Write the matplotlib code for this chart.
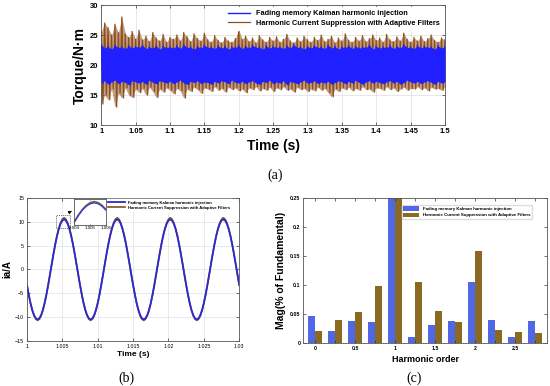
import numpy as np
import matplotlib
matplotlib.use("Agg")
import matplotlib.pyplot as plt

plt.rcParams['font.family'] = ['Liberation Sans', 'DejaVu Sans']

# ---------------- data ----------------
legend_names = ["Fading memory Kalman harmonic injection",
                "Harmonic Current Suppression with Adaptive Filters"]

# (a) torque envelopes (upper / lower excursions)
torque_start, torque_end = 1.0, 1.5
kalman_hi = [23.4, 22.8, 23.1, 22.6, 23.3, 22.9, 23.0, 22.7, 23.2, 22.8, 23.1,
             22.9, 23.3, 22.7, 23.0, 22.8, 23.2, 22.6, 23.1, 22.9, 23.0,
             22.8, 23.2, 22.7, 23.4, 22.9, 23.0, 22.6, 23.1, 22.8, 23.3,
             22.9, 23.0, 22.7, 23.2, 22.8, 23.1, 22.6, 23.0, 22.9, 23.2,
             22.7, 23.1, 22.8, 23.3, 22.9, 23.0, 22.6, 23.2, 22.8, 23.1,
             22.9, 23.0, 22.7, 23.2, 22.8, 23.4, 22.9, 23.0, 22.6, 23.1,
             22.8, 23.2, 22.9, 23.0, 22.7, 23.3, 22.8, 23.1, 22.6, 23.0,
             22.9, 23.2, 22.7, 23.1, 22.8, 23.0, 22.9, 23.3, 22.6, 23.1,
             22.8, 23.0, 22.9, 23.2, 22.7, 23.1, 22.8, 23.4, 22.9, 23.0,
             22.7, 23.2, 22.8, 23.1, 22.9, 23.0, 22.6, 23.2, 22.8, 23.1]
kalman_lo = [17.0, 17.4, 16.8, 17.2, 17.5, 16.9, 17.3, 17.1, 16.7, 17.4, 17.2,
             17.0, 17.3, 16.8, 17.5, 17.1, 16.9, 17.4, 17.2, 17.0, 17.3,
             16.9, 17.2, 17.5, 17.0, 16.8, 17.3, 17.1, 17.4, 16.9, 17.2,
             17.1, 16.8, 17.3, 17.0, 17.4, 17.2, 16.9, 17.5, 17.1, 17.0,
             17.3, 16.9, 17.2, 17.4, 17.0, 16.8, 17.3, 17.1, 17.5, 16.9,
             17.2, 17.0, 17.4, 16.7, 17.3, 17.1, 16.9, 17.2, 17.5, 17.0,
             17.1, 17.4, 16.9, 17.2, 17.0, 17.3, 16.8, 17.1, 17.4, 17.2,
             16.9, 17.3, 17.0, 17.5, 17.1, 16.8, 17.2, 17.4, 17.0, 17.3,
             17.1, 16.9, 17.2, 17.4, 17.0, 17.3, 16.8, 17.1, 17.5, 17.2,
             17.0, 17.3, 16.9, 17.2, 17.4, 17.1, 16.8, 17.3, 17.0, 17.2]
adaptive_hi = [25.5, 27.0, 26.2, 25.0, 26.8, 25.4, 28.0, 25.2, 24.6, 25.6, 24.3,
               25.8, 24.2, 24.8, 23.9, 25.4, 24.5, 24.0, 25.1, 23.8, 24.6,
               24.3, 25.0, 24.0, 25.4, 24.7, 23.9, 25.2, 24.4, 24.0, 25.3,
               24.2, 23.8, 24.9, 24.1, 23.7, 24.6, 24.0, 23.8, 24.4, 25.9,
               24.3, 24.8, 23.9, 24.5, 23.7, 24.9, 24.2, 23.8, 24.6, 24.0,
               24.7, 23.8, 24.3, 25.1, 24.0, 23.7, 24.5, 23.9, 24.8, 24.2,
               23.8, 24.6, 24.1, 25.0, 23.9, 24.3, 24.8, 23.7, 24.5, 24.0,
               25.2, 24.1, 23.8, 24.6, 24.0, 24.9, 23.9, 24.4, 25.0, 24.1,
               24.5, 23.8, 25.1, 24.2, 23.9, 24.7, 24.0, 25.3, 24.3, 23.8,
               24.6, 24.0, 24.8, 23.9, 24.4, 25.0, 24.1, 23.8, 24.5, 24.2]
adaptive_lo = [13.5, 15.0, 14.2, 16.0, 13.0, 15.3, 14.5, 16.2, 15.0, 14.6, 16.0,
               15.4, 16.1, 15.0, 16.3, 15.6, 14.6, 16.0, 15.5, 16.2, 15.8,
               15.2, 16.1, 15.7, 14.5, 16.0, 15.6, 16.3, 15.9, 15.3, 16.2,
               16.0, 15.6, 16.4, 15.8, 16.1, 15.5, 16.3, 15.9, 16.2, 15.7,
               16.0, 15.4, 16.2, 15.9, 16.4, 15.7, 16.1, 15.8, 16.3, 15.6,
               16.2, 15.9, 16.4, 15.8, 16.0, 15.5, 16.3, 15.9, 16.1, 15.6,
               16.0, 15.7, 16.3, 15.8, 16.1, 15.4, 14.7, 16.0, 15.6, 16.2,
               15.9, 16.3, 15.7, 16.1, 15.8, 16.4, 15.9, 16.0, 15.5, 16.2,
               16.1, 15.8, 16.4, 15.9, 16.2, 15.6, 16.0, 16.3, 15.8, 16.1,
               16.0, 16.4, 15.9, 16.2, 15.7, 16.3, 16.0, 16.1, 15.8, 16.4]

# (b) phase current samples, 1.0 s .. 1.03 s
ia_start, ia_end = 1.0, 1.03
ia_kalman = [-3.24, -5.25, -7.03, -8.49, -9.59, -10.27, -10.5, -10.27, -9.59, -8.49,
             -7.03, -5.25, -3.24, -1.10, 1.10, 3.24, 5.25, 7.03, 8.49, 9.59,
             10.27, 10.5, 10.27, 9.59, 8.49, 7.03, 5.25, 3.24, 1.10, -1.10,
             -3.24, -5.25, -7.03, -8.49, -9.59, -10.27, -10.5, -10.27, -9.59, -8.49,
             -7.03, -5.25, -3.24, -1.10, 1.10, 3.24, 5.25, 7.03, 8.49, 9.59,
             10.27, 10.5, 10.27, 9.59, 8.49, 7.03, 5.25, 3.24, 1.10, -1.10,
             -3.24, -5.25, -7.03, -8.49, -9.59, -10.27, -10.5, -10.27, -9.59, -8.49,
             -7.03, -5.25, -3.24, -1.10, 1.10, 3.24, 5.25, 7.03, 8.49, 9.59,
             10.27, 10.5, 10.27, 9.59, 8.49, 7.03, 5.25, 3.24, 1.10, -1.10,
             -3.24, -5.25, -7.03, -8.49, -9.59, -10.27, -10.5, -10.27, -9.59, -8.49,
             -7.03, -5.25, -3.24, -1.10, 1.10, 3.24, 5.25, 7.03, 8.49, 9.59,
             10.27, 10.5, 10.27, 9.59, 8.49, 7.03, 5.25, 3.24, 1.10, -1.10,
             -3.24]
ia_adaptive = [-3.30, -5.35, -7.15, -8.62, -9.75, -10.45, -10.7, -10.45, -9.75, -8.62,
               -7.15, -5.35, -3.30, -1.12, 1.12, 3.30, 5.35, 7.15, 8.65, 9.80,
               10.55, 10.85, 10.55, 9.80, 8.65, 7.15, 5.35, 3.30, 1.12, -1.12,
               -3.30, -5.35, -7.15, -8.62, -9.75, -10.45, -10.7, -10.45, -9.75, -8.62,
               -7.15, -5.35, -3.30, -1.12, 1.12, 3.30, 5.35, 7.15, 8.65, 9.80,
               10.55, 10.85, 10.55, 9.80, 8.65, 7.15, 5.35, 3.30, 1.12, -1.12,
               -3.30, -5.35, -7.15, -8.62, -9.75, -10.45, -10.7, -10.45, -9.75, -8.62,
               -7.15, -5.35, -3.30, -1.12, 1.12, 3.30, 5.35, 7.15, 8.65, 9.80,
               10.55, 10.85, 10.55, 9.80, 8.65, 7.15, 5.35, 3.30, 1.12, -1.12,
               -3.30, -5.35, -7.15, -8.62, -9.75, -10.45, -10.7, -10.45, -9.75, -8.62,
               -7.15, -5.35, -3.30, -1.12, 1.12, 3.30, 5.35, 7.15, 8.65, 9.80,
               10.55, 10.85, 10.55, 9.80, 8.65, 7.15, 5.35, 3.30, 1.12, -1.12,
               -3.30]

# (c) harmonic spectrum
harmonic_order = [0, 0.25, 0.5, 0.75, 1, 1.25, 1.5, 1.75, 2, 2.25, 2.5, 2.75]
mag_kalman = [0.046, 0.021, 0.039, 0.037, 0.30, 0.011, 0.032, 0.038, 0.105, 0.040, 0.011, 0.039]
mag_adaptive = [0.021, 0.040, 0.053, 0.099, 0.30, 0.105, 0.056, 0.036, 0.158, 0.023, 0.020, 0.017]
harmonic_ticklabels = ["0", "", "0.5", "", "1", "", "1.5", "", "2", "", "2.5", ""]

BLUE = "#1f1fff"
BROWN = "#8e4e1e"
BAR_BLUE = "#5068e6"
BAR_BROWN = "#8a6a22"


def zigzag(hi, lo, t0, t1):
    n = len(hi)
    step = (t1 - t0) / (n - 1)
    th = np.linspace(t0, t1, n)
    tl = th + step / 2
    t = np.empty(2 * n)
    y = np.empty(2 * n)
    t[0::2], t[1::2] = th, tl
    y[0::2], y[1::2] = hi, lo
    m = t <= t1
    return t[m], y[m]


def style_axes(ax, fs):
    ax.tick_params(direction="in", top=True, right=True, labelsize=fs,
                   length=2, width=0.5, pad=2, colors="#333333", labelcolor="black")
    for s in ax.spines.values():
        s.set_linewidth(0.6)
        s.set_color("#555555")


fig = plt.figure(figsize=(5.5, 3.86), dpi=100)

# ---------------- (a) ----------------
axa = fig.add_axes([0.184, 0.676, 0.625, 0.311])
ta, ya = zigzag(adaptive_hi, adaptive_lo, torque_start, torque_end)
tk, yk = zigzag(kalman_hi, kalman_lo, torque_start, torque_end)
t_env = np.linspace(torque_start, torque_end, len(kalman_hi))
axa.fill_between(t_env, adaptive_lo, adaptive_hi, color=BROWN, alpha=0.55, lw=0, zorder=2)
axa.plot(ta, ya, color=BROWN, lw=0.9, label=legend_names[1], zorder=2)
axa.fill_between(t_env, kalman_lo, kalman_hi, color=BLUE, lw=0, zorder=3)
axa.plot(tk, yk, color=BLUE, lw=1.0, label=legend_names[0], zorder=3)
axa.set_xlim(1, 1.5)
axa.set_ylim(10, 30)
axa.set_xticks(np.arange(1, 1.501, 0.05))
axa.set_xticklabels(["1", "1.05", "1.1", "1.15", "1.2", "1.25", "1.3", "1.35", "1.4", "1.45", "1.5"])
axa.set_yticks([10, 15, 20, 25, 30])
axa.grid(True, color="#dddddd", lw=0.5)
style_axes(axa, 5.5)
for lab in axa.get_xticklabels() + axa.get_yticklabels():
    lab.set_fontweight("bold")
axa.set_ylabel("Torque/N·m", fontsize=10, fontweight="bold", labelpad=2)
axa.set_xlabel("Time (s)", fontsize=10, fontweight="bold", labelpad=3)
h, l = axa.get_legend_handles_labels()
leg = axa.legend(h[::-1], l[::-1], loc="upper right", fontsize=5.3, frameon=True,
                 edgecolor="white", facecolor="white", framealpha=1,
                 handlelength=3, borderaxespad=0.3, labelspacing=0.3)
for t in leg.get_texts():
    t.set_fontweight("bold")

# ---------------- (b) ----------------
axb = fig.add_axes([0.049, 0.117, 0.386, 0.370])
tb = np.linspace(ia_start, ia_end, len(ia_kalman))
axb.plot(tb, ia_adaptive, color=BROWN, lw=1.2, label=legend_names[1])
axb.plot(tb, ia_kalman, color="#2a2ad0", lw=1.3, label=legend_names[0])
axb.set_xlim(1, 1.03)
axb.set_ylim(-15, 15)
axb.set_xticks([1, 1.005, 1.01, 1.015, 1.02, 1.025, 1.03])
axb.set_xticklabels(["1", "1.005", "1.01", "1.015", "1.02", "1.025", "1.03"])
axb.set_yticks([-15, -10, -5, 0, 5, 10, 15])
axb.grid(True, color="#e2e2e2", lw=0.5)
style_axes(axb, 3.8)
axb.set_ylabel("ia/A", fontsize=7, fontweight="bold", labelpad=2)
axb.set_xlabel("Time (s)", fontsize=6, fontweight="bold", labelpad=2)
h, l = axb.get_legend_handles_labels()
legb = axb.legend(h[::-1], l[::-1], loc="upper left", bbox_to_anchor=(0.37, 1.0),
                  fontsize=3, frameon=True, edgecolor="white", facecolor="white",
                  framealpha=1, handlelength=4, borderaxespad=0.2, labelspacing=0.3)
for t in legb.get_texts():
    t.set_fontweight("bold")
# zoom box and arrow
axb.plot([1.0041, 1.0061, 1.0061, 1.0041, 1.0041], [8.7, 8.7, 11.4, 11.4, 8.7],
         ls=(0, (1.5, 1.5)), color="#333333", lw=0.5)
axb.annotate("", xy=(1.0067, 12.6), xytext=(1.0055, 11.6),
             arrowprops=dict(arrowstyle="-|>", color="black", lw=0.5, mutation_scale=5))

# inset
axi = fig.add_axes([0.135, 0.417, 0.058, 0.067])
axi.plot(tb, ia_adaptive, color="#7a6a10", lw=1.2)
axi.plot(tb, ia_kalman, color="#3a3ae0", lw=1.0)
axi.set_xlim(1.004, 1.006)
axi.set_ylim(4.5, 11.5)
axi.set_xticks([1.004, 1.005, 1.006])
axi.set_xticklabels(["1.004", "1.005", "1.006"])
axi.set_yticks([])
style_axes(axi, 3.2)
axi.tick_params(pad=1, length=1)

# ---------------- (c) ----------------
axc = fig.add_axes([0.551, 0.111, 0.444, 0.376])
w = 0.088
xo = np.array(harmonic_order)
axc.bar(xo - w / 2, mag_kalman, width=w, color=BAR_BLUE, label=legend_names[0])
axc.bar(xo + w / 2, mag_adaptive, width=w, color=BAR_BROWN, label=legend_names[1])
axc.set_xlim(-0.15, 2.9)
axc.set_ylim(0, 0.25)
axc.set_xticks(harmonic_order)
axc.set_xticklabels(harmonic_ticklabels)
axc.set_yticks([0, 0.05, 0.1, 0.15, 0.2, 0.25])
axc.set_yticklabels(["0", "0.05", "0.1", "0.15", "0.2", "0.25"])
style_axes(axc, 3.8)
for lab in axc.get_xticklabels() + axc.get_yticklabels():
    lab.set_fontweight("bold")
axc.set_ylabel("Mag(% of Fundamental)", fontsize=7.5, fontweight="bold", labelpad=3)
axc.set_xlabel("Harmonic order", fontsize=6.5, fontweight="bold", labelpad=3)
legc = axc.legend(loc="upper left", bbox_to_anchor=(0.40, 0.96), fontsize=3.2,
                  frameon=True, edgecolor="#dddddd", facecolor="white", framealpha=1,
                  handlelength=3.5, handleheight=1.2, labelspacing=0.3, borderaxespad=0.2)
for t in legc.get_texts():
    t.set_fontweight("bold")

# panel captions
for txt, x, y in [("(a)", 0.5, 0.547), ("(b)", 0.229, 0.021), ("(c)", 0.753, 0.021)]:
    fig.text(x, y, txt, ha="center", va="center", fontsize=10,
             family=["Liberation Serif", "DejaVu Serif"])

fig.savefig("out.png", dpi=100)
